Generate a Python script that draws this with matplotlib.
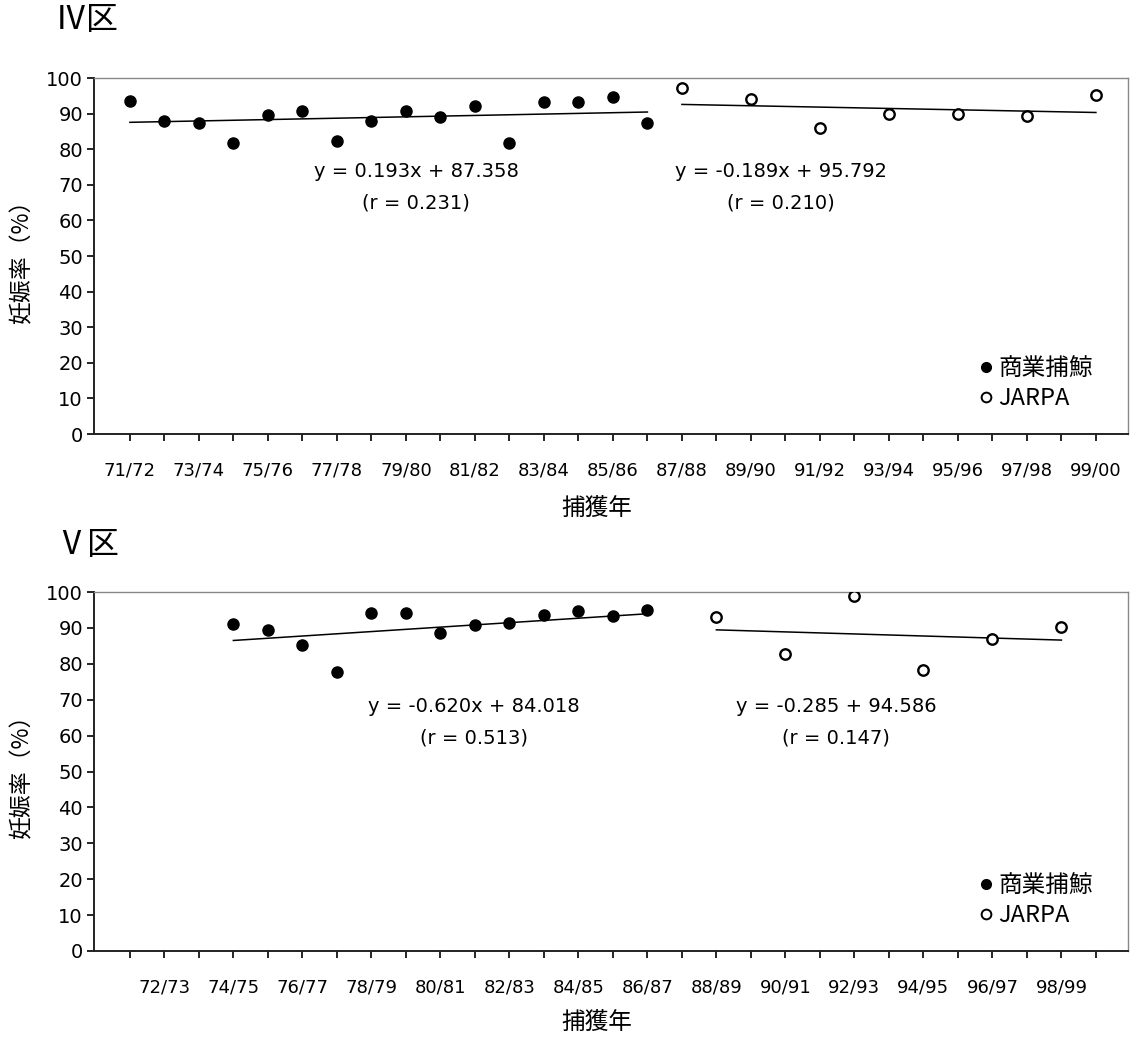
import matplotlib
matplotlib.use("Agg")
import matplotlib.pyplot as plt
from matplotlib.lines import Line2D

plt.rcParams['font.family'] = ['DejaVu Sans', 'Noto Sans CJK JP']
CJK = ['Noto Sans CJK JP', 'DejaVu Sans']

# Seasons 71/72 .. 99/00 are numbered 1 .. 29
seasons_all = list(range(1, 30))

# Area IV
iv_tick_labels = ['71/72', '', '73/74', '', '75/76', '', '77/78', '', '79/80', '',
                  '81/82', '', '83/84', '', '85/86', '', '87/88', '', '89/90', '',
                  '91/92', '', '93/94', '', '95/96', '', '97/98', '', '99/00']
iv_com_x = list(range(1, 17))
iv_com_y = [93.6, 88.0, 87.4, 81.8, 89.6, 90.8, 82.3, 87.9, 90.8, 89.0,
            92.0, 81.8, 93.2, 93.2, 94.8, 87.5]
iv_jarpa_x = [17, 19, 21, 23, 25, 27, 29]
iv_jarpa_y = [97.1, 94.2, 85.9, 89.8, 89.8, 89.2, 95.3]
iv_com_fit = (0.193, 87.358)
iv_jarpa_fit = (-0.189, 95.792)
iv_com_text = ['y = 0.193x + 87.358', '(r = 0.231)']
iv_jarpa_text = ['y = -0.189x + 95.792', '(r = 0.210)']

# Area V
v_tick_labels = ['', '72/73', '', '74/75', '', '76/77', '', '78/79', '', '80/81',
                 '', '82/83', '', '84/85', '', '86/87', '', '88/89', '', '90/91',
                 '', '92/93', '', '94/95', '', '96/97', '', '98/99', '']
v_com_x = list(range(4, 17))
v_com_y = [91.1, 89.5, 85.2, 77.7, 94.1, 94.1, 88.7, 90.7, 91.3, 93.7,
           94.7, 93.2, 94.9]
v_jarpa_x = [18, 20, 22, 24, 26, 28]
v_jarpa_y = [92.9, 82.6, 98.9, 78.3, 86.9, 90.2]
v_com_fit = (0.620, 84.018)
v_jarpa_fit = (-0.285, 94.586)
v_com_text = ['y = -0.620x + 84.018', '(r = 0.513)']
v_jarpa_text = ['y = -0.285 + 94.586', '(r = 0.147)']

yticks = list(range(0, 101, 10))

W, H = 1130, 1038
fig = plt.figure(figsize=(W / 100, H / 100), dpi=100)


def fx(px):
    return px / W


def fy(py):
    return 1 - py / H


def panel(top, bottom, title, title_y, labels, cx, cy, jx, jy, cfit, jfit,
          ctext, jtext, ctext_xy, jtext_xy, xlabel_y):
    ax = fig.add_axes([fx(94), fy(bottom), fx(1128) - fx(94), fy(top) - fy(bottom)])
    ax.set_xlim(-0.04, 29.93)
    ax.set_ylim(0, 100)
    ax.set_xticks(seasons_all)
    ax.set_xticklabels(labels, fontsize=13)
    ax.set_yticks(yticks)
    ax.tick_params(axis='y', labelsize=14, length=5, width=1.2, pad=3)
    ax.tick_params(axis='x', length=5, width=1.2, pad=15)
    for s in ('left', 'bottom'):
        ax.spines[s].set_linewidth(1.4)
        ax.spines[s].set_color('#222222')
    for s in ('top', 'right'):
        ax.spines[s].set_linewidth(1.0)
        ax.spines[s].set_color('#888888')

    ax.plot(cx, cy, 'o', color='black', markersize=8, zorder=3)
    ax.plot(jx, jy, 'o', markerfacecolor='white', markeredgecolor='black',
            markeredgewidth=1.7, markersize=7.5, zorder=3)

    for xs, (a, b) in ((cx, cfit), (jx, jfit)):
        x0, x1 = xs[0], xs[-1]
        ax.plot([x0, x1], [a * x0 + b, a * x1 + b], color='black', lw=1.1, zorder=2)

    for (tx, ty), lines in ((ctext_xy, ctext), (jtext_xy, jtext)):
        fig.text(fx(tx), fy(ty), lines[0], ha='center', va='center', fontsize=14)
        fig.text(fx(tx), fy(ty + 32), lines[1], ha='center', va='center', fontsize=14)

    handles = [
        Line2D([], [], marker='o', linestyle='none', color='black', markersize=7),
        Line2D([], [], marker='o', linestyle='none', markerfacecolor='white',
               markeredgecolor='black', markeredgewidth=1.4, markersize=7),
    ]
    ax.legend(handles, ['商業捕鯨', 'JARPA'], loc='lower left',
              bbox_to_anchor=(0.835, 0.007), frameon=False,
              handlelength=0.6, handletextpad=0.25, labelspacing=0.3,
              prop={'family': CJK, 'size': 17})

    fig.text(fx(55), fy(title_y), title, ha='left', va='center', fontsize=23,
             family=CJK)
    fig.text(fx(22), (fy(top) + fy(bottom)) / 2, '妊娠率（%）', rotation=90,
             ha='center', va='center', fontsize=16.5, family=CJK)
    fig.text(fx(597), fy(xlabel_y), '捕獲年', ha='center', va='center',
             fontsize=17, family=CJK)
    return ax


panel(78, 434, 'Ⅳ区', 20, iv_tick_labels, iv_com_x, iv_com_y, iv_jarpa_x,
      iv_jarpa_y, iv_com_fit, iv_jarpa_fit, iv_com_text, iv_jarpa_text,
      (416, 171), (781, 171), 508)
panel(592, 951, 'Ⅴ区', 545, v_tick_labels, v_com_x, v_com_y, v_jarpa_x,
      v_jarpa_y, v_com_fit, v_jarpa_fit, v_com_text, v_jarpa_text,
      (474, 706), (836, 706), 1022)

fig.savefig('out.png', dpi=100)
